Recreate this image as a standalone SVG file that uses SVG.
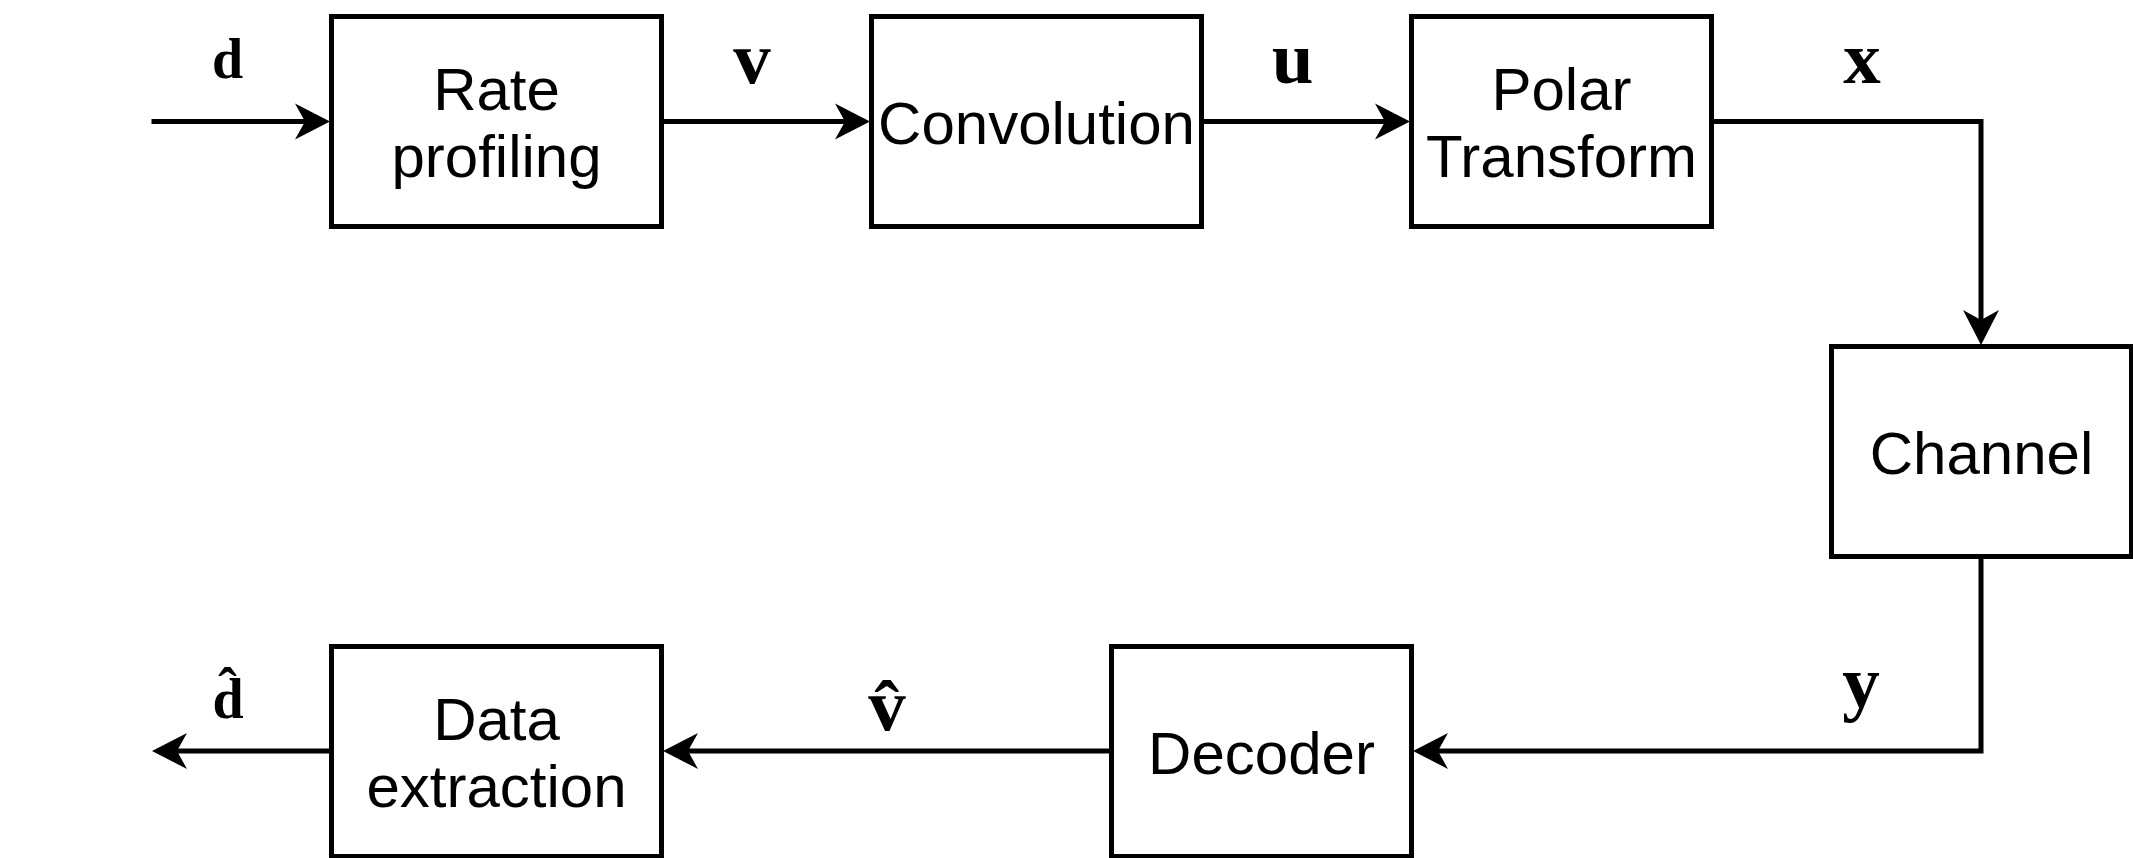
<svg xmlns="http://www.w3.org/2000/svg" width="2133" height="858" viewBox="0 0 2133 858">
<style>
.box{fill:#fff;stroke:#000;stroke-width:5}
.lbl{font-family:"Liberation Sans",Arial,sans-serif;font-size:60px;fill:#000;text-anchor:middle}
.math{font-family:"Liberation Serif","Times New Roman",serif;font-weight:bold;fill:#000;text-anchor:middle}
.conn{fill:none;stroke:#000;stroke-width:5;marker-end:url(#arr)}
</style>
<defs>
<marker id="arr" markerUnits="userSpaceOnUse" markerWidth="40" markerHeight="40" refX="10" refY="18" orient="auto" overflow="visible">
<path d="M0,0 L35,18 L0,36 L10,18 Z" fill="#000"/>
</marker>
</defs>
<rect width="2133" height="858" fill="#fff"/>
<g id="connectors">
<path class="conn" d="M151.5,121.5 H305"/>
<path class="conn" d="M661.5,121.5 H845"/>
<path class="conn" d="M1201.5,121.5 H1385"/>
<path class="conn" d="M1711.5,121.5 H1981 V320"/>
<path class="conn" d="M1981,556.5 V751 H1438"/>
<path class="conn" d="M1111.5,751 H688"/>
<path class="conn" d="M331.5,751 H177"/>
</g>
<g id="labels">
<text class="math" x="227.5" y="78" font-size="56">d</text>
<text class="math" x="752" y="83" font-size="75">v</text>
<text class="math" x="1292.5" y="83" font-size="75">u</text>
<text class="math" x="1862" y="83" font-size="75">x</text>
<text class="math" x="1861" y="707" font-size="75">y</text>
<text class="math" x="887" y="730" font-size="75">v̂</text>
<text class="math" x="228" y="718" font-size="56">d̂</text>
</g>
<g id="rate-profiling">
<rect class="box" x="331.5" y="16.5" width="330" height="210"/>
<text class="lbl" x="496.5" y="110">Rate</text>
<text class="lbl" x="496.5" y="177">profiling</text>
</g>
<g id="convolution">
<rect class="box" x="871.5" y="16.5" width="330" height="210"/>
<text class="lbl" x="1036.5" y="143.5">Convolution</text>
</g>
<g id="polar-transform">
<rect class="box" x="1411.5" y="16.5" width="300" height="210"/>
<text class="lbl" x="1561.5" y="110">Polar</text>
<text class="lbl" x="1561.5" y="177">Transform</text>
</g>
<g id="channel">
<rect class="box" x="1831.5" y="346.5" width="300" height="210"/>
<text class="lbl" x="1981.5" y="473.5">Channel</text>
</g>
<g id="decoder">
<rect class="box" x="1111.5" y="646.5" width="300" height="210"/>
<text class="lbl" x="1261.5" y="773.5">Decoder</text>
</g>
<g id="data-extraction">
<rect class="box" x="331.5" y="646.5" width="330" height="210"/>
<text class="lbl" x="496.5" y="740">Data</text>
<text class="lbl" x="496.5" y="807">extraction</text>
</g>
</svg>
